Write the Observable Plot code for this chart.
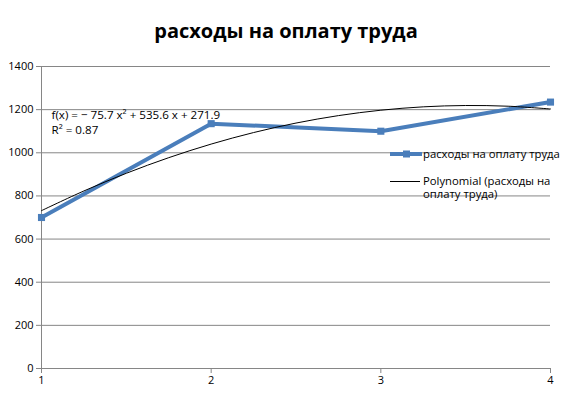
<!DOCTYPE html>
<html><head><meta charset="utf-8">
<script src="https://cdn.jsdelivr.net/npm/d3@7"></script>
<script src="https://cdn.jsdelivr.net/npm/@observablehq/plot@0.6"></script>
<style>
body{margin:0;background:#fff;}
#wrap{position:relative;width:572px;height:400px;font-family:"Open Sans",sans-serif;}
#title{height:50px;line-height:61px;text-align:center;font-family:"Open Sans",sans-serif;font-weight:bold;font-size:20px;color:#000;}
#legend{position:absolute;left:390px;top:146px;font-size:11.3px;color:#000;}
.li{display:flex;align-items:flex-start;}
</style></head>
<body>
<div id="wrap">
<div id="title">расходы на оплату труда</div>
<div id="chart"></div>
<div id="legend">
  <div class="li" style="height:26px;"><svg width="34" height="14"><line x1="0" y1="8" x2="32" y2="8" stroke="#4a7ebb" stroke-width="4"/><rect x="13" y="4.5" width="7" height="7" fill="#4a7ebb"/></svg><span style="margin-left:-1px;line-height:16px;">расходы на оплату труда</span></div>
  <div class="li" style="margin-top:2px;"><svg width="34" height="14"><line x1="0" y1="7.5" x2="30" y2="7.5" stroke="#000" stroke-width="1"/></svg><span style="margin-left:-1px;line-height:13px;width:150px;">Polynomial (расходы на оплату труда)</span></div>
</div>
</div>
<script>
const xs = [1, 2, 3, 4];
const values = [700, 1135, 1100, 1235];
const trendX = [1, 1.25, 1.5, 1.75, 2, 2.25, 2.5, 2.75, 3, 3.25, 3.5, 3.75, 4];
const trendY = [731.8, 823.1, 905.0, 977.4, 1040.3, 1093.8, 1137.8, 1172.3, 1197.4, 1213.0, 1219.2, 1215.9, 1203.1];
const yTicks = [0, 200, 400, 600, 800, 1000, 1200, 1400];
const xTicks = [1, 2, 3, 4];
const eqLines = ["f(x) = − 75.7 x² + 535.6 x + 271.9", "R² = 0.87"];

const data = xs.map((x, i) => ({x, y: values[i]}));
const trend = trendX.map((x, i) => ({x, y: trendY[i]}));
const fmt = d => String(d);

const chart = Plot.plot({
  width: 572, height: 350,
  marginTop: 16, marginBottom: 32, marginLeft: 41, marginRight: 22,
  style: {fontFamily: "Open Sans, sans-serif", fontSize: "11px", color: "#000", background: "#fff"},
  x: {domain: [1, 4], label: null},
  y: {domain: [0, 1400], label: null},
  marks: [
    Plot.gridY(yTicks, {stroke: "#868686", strokeOpacity: 1, strokeWidth: 1}),
    Plot.ruleX([1], {stroke: "#868686"}),
    Plot.axisY({ticks: yTicks, tickFormat: fmt, tickSize: 5, stroke: "#868686", tickPadding: 3, fill: "#000", label: null}),
    Plot.axisX({ticks: xTicks, tickFormat: fmt, tickSize: 5, stroke: "#868686", tickPadding: 3, fill: "#000", label: null}),
    Plot.line(data, {x: "x", y: "y", stroke: "#4a7ebb", strokeWidth: 4}),
    Plot.dot(data, {x: "x", y: "y", symbol: "square", r: 4, fill: "#4a7ebb", stroke: "none"}),
    Plot.line(trend, {x: "x", y: "y", stroke: "#000", strokeWidth: 1, curve: "catmull-rom"}),
    Plot.text([eqLines[0]], {frameAnchor: "top-left", dx: 10, dy: 49, text: d => d, textAnchor: "start", lineAnchor: "middle", fill: "#000", fontSize: 11.6}),
    Plot.text([eqLines[1]], {frameAnchor: "top-left", dx: 10, dy: 64, text: d => d, textAnchor: "start", lineAnchor: "middle", fill: "#000", fontSize: 11.6})
  ]
});
document.getElementById("chart").appendChild(chart);
</script>
</body></html>
